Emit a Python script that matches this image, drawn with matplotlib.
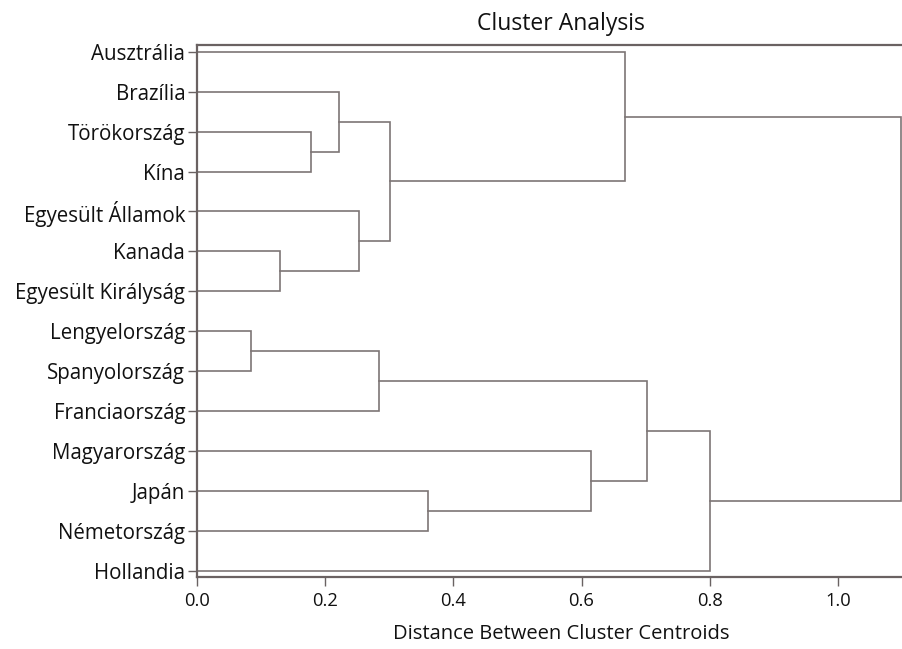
import matplotlib
matplotlib.use('Agg')
import matplotlib.pyplot as plt

plt.rcParams['font.family'] = ['Open Sans', 'DejaVu Sans']

# leaves, top to bottom
labels = ['Ausztrália', 'Brazília', 'Törökország', 'Kína', 'Egyesült Államok',
          'Kanada', 'Egyesült Királyság', 'Lengyelország', 'Spanyolország',
          'Franciaország', 'Magyarország', 'Japán', 'Németország', 'Hollandia']

# merges: node ids 0..13 are leaves, each merge creates node 14, 15, ...
merge_a = [2, 1, 5, 4, 15, 0, 7, 20, 11, 10, 21, 24, 19]
merge_b = [3, 14, 6, 16, 17, 18, 8, 9, 12, 22, 23, 13, 25]
merge_h = [0.178, 0.222, 0.130, 0.253, 0.301, 0.668, 0.085, 0.284,
           0.360, 0.614, 0.702, 0.801, 1.098]

xticks = [0.0, 0.2, 0.4, 0.6, 0.8, 1.0]

line_col = '#7d7575'
spine_col = '#6a6262'
text_col = '#111111'

fig = plt.figure(figsize=(9.02, 6.49), dpi=100)
ax = fig.add_axes([197 / 902, 1 - 577 / 649, 1 - 197 / 902, (577 - 45) / 649])

# node positions: x = distance, y = leaf row
pos = {i: (0.0, float(i)) for i in range(len(labels))}
for k, (a, b, h) in enumerate(zip(merge_a, merge_b, merge_h)):
    xa, ya = pos[a]
    xb, yb = pos[b]
    ax.plot([xa, h, h, xb], [ya, ya, yb, yb], color=line_col, lw=1.2,
            solid_joinstyle='miter', zorder=2)
    pos[len(labels) + k] = (h, (ya + yb) / 2)

ax.set_xlim(0, 1.1)
ax.set_ylim(13.16, -0.17)
ax.set_yticks(range(len(labels)))
ax.set_yticklabels(labels, fontsize=14.8, color=text_col)
ax.set_xticks(xticks)
ax.set_xticklabels([f'{t:.1f}' for t in xticks], fontsize=13.2, color=text_col)
ax.tick_params(axis='y', length=6.5, width=1.0, color=spine_col, pad=2)
ax.tick_params(axis='x', length=6.5, width=1.0, color=spine_col, pad=4)

for side in ['left', 'bottom', 'top']:
    ax.spines[side].set_color(spine_col)
    ax.spines[side].set_linewidth(1.6)
ax.spines['right'].set_visible(False)

fig.text(561 / 902, 1 - 24 / 649, 'Cluster Analysis', ha='center', va='center',
         fontsize=16.5, color=text_col)
fig.text(561 / 902, 1 - 634 / 649, 'Distance Between Cluster Centroids',
         ha='center', va='center', fontsize=14.5, color=text_col)

fig.savefig('out.png', dpi=100)
